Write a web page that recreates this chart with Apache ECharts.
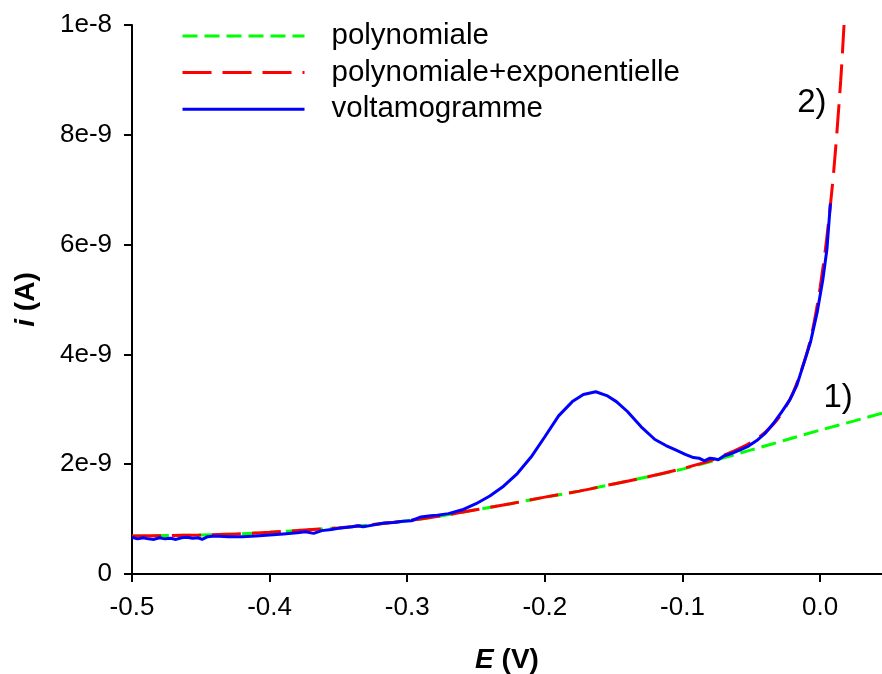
<!DOCTYPE html>
<html><head><meta charset="utf-8">
<script src="https://cdn.jsdelivr.net/npm/echarts@6/dist/echarts.min.js"></script>
<style>html,body{margin:0;padding:0;background:#fff}#c{width:882px;height:674px}</style>
</head><body><div id="c"></div>
<script>
// Potential E (V) and current i (in nA, i.e. units of 1e-9 A)
const polyE = [-0.5,-0.475,-0.45,-0.425,-0.4,-0.375,-0.35,-0.325,-0.3,-0.275,-0.25,-0.225,-0.2,-0.175,-0.15,-0.125,-0.1,-0.075,-0.05,-0.025,0,0.025,0.045];
const polyI = [0.69,0.70,0.71,0.73,0.76,0.80,0.84,0.90,0.97,1.06,1.17,1.28,1.40,1.51,1.64,1.77,1.91,2.08,2.26,2.44,2.62,2.79,2.93];

const expE = [-0.5,-0.475,-0.45,-0.425,-0.4,-0.375,-0.35,-0.325,-0.3,-0.275,-0.25,-0.225,-0.2,-0.175,-0.15,-0.125,-0.1,-0.08,-0.07,-0.06,-0.05,-0.04,-0.03,-0.02,-0.01,-0.005,0,0.005,0.01,0.015,0.0174];
const expI = [0.69,0.70,0.71,0.73,0.76,0.80,0.84,0.90,0.97,1.06,1.17,1.28,1.40,1.51,1.64,1.77,1.92,2.06,2.16,2.27,2.40,2.58,2.85,3.28,3.99,4.50,5.21,6.15,7.36,8.99,10.0];

const voltE = [-0.5,-0.496,-0.492,-0.488,-0.484,-0.48,-0.476,-0.472,-0.468,-0.464,-0.46,-0.456,-0.452,-0.449,-0.445,-0.44,-0.43,-0.42,-0.41,-0.4,-0.39,-0.38,-0.374,-0.368,-0.362,-0.355,-0.348,-0.34,-0.336,-0.332,-0.325,-0.317,-0.31,-0.303,-0.297,-0.29,-0.283,-0.278,-0.27,-0.26,-0.25,-0.24,-0.23,-0.22,-0.21,-0.2,-0.19,-0.18,-0.172,-0.163,-0.155,-0.148,-0.14,-0.13,-0.12,-0.112,-0.105,-0.098,-0.092,-0.088,-0.084,-0.08,-0.077,-0.074,-0.07,-0.065,-0.058,-0.052,-0.046,-0.04,-0.034,-0.028,-0.022,-0.017,-0.011,-0.007,-0.002,0.002,0.005,0.0075];
const voltI = [0.67,0.64,0.66,0.64,0.63,0.66,0.64,0.65,0.63,0.66,0.67,0.65,0.66,0.63,0.68,0.69,0.68,0.68,0.69,0.71,0.73,0.75,0.77,0.74,0.79,0.81,0.84,0.86,0.88,0.86,0.89,0.93,0.94,0.96,0.97,1.04,1.06,1.07,1.10,1.17,1.28,1.42,1.60,1.83,2.13,2.50,2.88,3.14,3.27,3.32,3.25,3.14,2.96,2.68,2.45,2.34,2.26,2.18,2.12,2.11,2.06,2.11,2.10,2.08,2.15,2.19,2.26,2.33,2.43,2.56,2.74,2.95,3.17,3.43,3.90,4.22,4.78,5.36,5.92,6.75];

const xTickLabels = ['-0.5','-0.4','-0.3','-0.2','-0.1','0.0'];
const yTickLabels = ['0','2e-9','4e-9','6e-9','8e-9','1e-8'];
const seriesNames = ['polynomiale','polynomiale+exponentielle','voltamogramme'];
const annot1 = {text:'1)', E:0.0131, i:3.21};
const annot2 = {text:'2)', E:-0.006, i:8.59};

const FONT = '"Liberation Sans", Arial, Helvetica, sans-serif';
const pairs = (xs, ys) => xs.map((x, k) => [x, ys[k]]);

const chart = echarts.init(document.getElementById('c'), null, {renderer:'canvas'});
chart.setOption({
  animation: false,
  backgroundColor: '#ffffff',
  textStyle: {fontFamily: FONT},
  grid: {left:132, right:0, top:25, bottom:100, containLabel:false, outerBoundsMode:'none'},
  legend: {
    orient: 'vertical', left: 181, top: 21, padding: 0,
    itemWidth: 122, itemHeight: 14, itemGap: 6.6,
    data: seriesNames,
    itemStyle: {color:'rgba(0,0,0,0)', borderWidth:0, opacity:0},
    lineStyle: {width: 3},
    textStyle: {fontFamily: FONT, fontSize: 29.5, color:'#000', lineHeight: 30, padding:[0,0,0,22]},
    selectedMode: false
  },
  xAxis: {
    type: 'value', min: -0.5, max: 0.045, interval: 0.1,
    name: '{it|E} (V)', nameLocation: 'middle', nameGap: 72,
    nameTextStyle: {fontFamily: FONT, fontSize: 28, fontWeight: 'bold', color:'#000',
      rich: {it: {fontFamily: FONT, fontSize: 28, fontWeight:'bold', fontStyle:'italic', color:'#000'}}},
    axisLine: {show:true, onZero:false, lineStyle:{color:'#000', width:2}},
    axisTick: {show:true, inside:false, length:8, lineStyle:{color:'#000', width:2}},
    splitLine: {show:false},
    axisLabel: {
      fontFamily: FONT, fontSize: 26, color:'#000', margin: 21, showMaxLabel: false,
      formatter: v => {
        const k = Math.round((v + 0.5) / 0.1);
        return Math.abs((v + 0.5) / 0.1 - k) < 1e-6 && xTickLabels[k] !== undefined ? xTickLabels[k] : '';
      }
    }
  },
  yAxis: {
    type: 'value', min: 0, max: 10, interval: 2,
    name: '{it|i} (A)', nameLocation: 'middle', nameGap: 92,
    nameTextStyle: {fontFamily: FONT, fontSize: 28, fontWeight: 'bold', color:'#000',
      rich: {it: {fontFamily: FONT, fontSize: 28, fontWeight:'bold', fontStyle:'italic', color:'#000'}}},
    axisLine: {show:true, onZero:false, lineStyle:{color:'#000', width:2}},
    axisTick: {show:true, inside:false, length:8, lineStyle:{color:'#000', width:2}},
    splitLine: {show:false},
    axisLabel: {
      fontFamily: FONT, fontSize: 26, color:'#000', margin: 20,
      formatter: v => yTickLabels[Math.round(v / 2)]
    }
  },
  series: [
    {
      name: seriesNames[0], type: 'line', data: pairs(polyE, polyI),
      symbol: 'none', smooth: 0.3, clip: true,
      lineStyle: {color:'#00ff00', width:3, type:[15,7], cap:'butt'},
      itemStyle: {color:'#00ff00'},
      markPoint: {
        silent: true, symbol: 'circle', symbolSize: 0,
        label: {show:true, position:'inside', formatter: annot1.text, fontFamily: FONT, fontSize: 33, color:'#000'},
        data: [{coord:[annot1.E, annot1.i]}]
      },
      z: 2
    },
    {
      name: seriesNames[1], type: 'line', data: pairs(expE, expI),
      symbol: 'none', smooth: 0.3, clip: true,
      lineStyle: {color:'#ff0000', width:3, type:[29,11], cap:'butt'},
      itemStyle: {color:'#ff0000'},
      markPoint: {
        silent: true, symbol: 'circle', symbolSize: 0,
        label: {show:true, position:'inside', formatter: annot2.text, fontFamily: FONT, fontSize: 33, color:'#000'},
        data: [{coord:[annot2.E, annot2.i]}]
      },
      z: 3
    },
    {
      name: seriesNames[2], type: 'line', data: pairs(voltE, voltI),
      symbol: 'none', smooth: false, clip: true,
      lineStyle: {color:'#0000ff', width:3},
      itemStyle: {color:'#0000ff'},
      z: 4
    }
  ]
});
</script>
</body></html>
